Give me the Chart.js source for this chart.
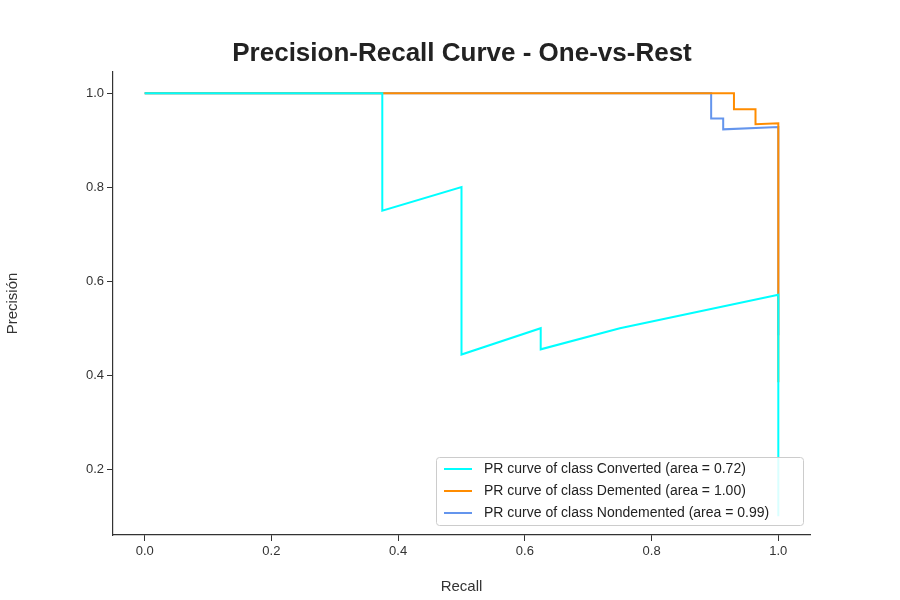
<!DOCTYPE html>
<html lang="en">
<head>
<meta charset="UTF-8">
<title>Precision-Recall Curve</title>
<style>
  body { margin: 0; background: #fff; }
</style>
</head>
<body>
<canvas id="prChart" width="900" height="600"></canvas>
<script src="https://cdn.jsdelivr.net/npm/chart.js"></script>
<script>
// recall / precision points
const convRecall = [0, 0.375, 0.375, 0.5, 0.5, 0.625, 0.625, 0.75, 1.0, 1.0];
const convPrec   = [1, 1, 0.75, 0.8, 0.444, 0.5, 0.455, 0.5, 0.571, 0.1];
const demRecall  = [0, 0.93, 0.93, 0.964, 0.964, 1.0, 1.0];
const demPrec    = [1, 1, 0.966, 0.966, 0.934, 0.936, 0.385];
const nonRecall  = [0, 0.894, 0.894, 0.913, 0.913, 1.0, 1.0];
const nonPrec    = [1, 1, 0.946, 0.946, 0.923, 0.928, 0.485];
const seriesLabels = [
  'PR curve of class Converted (area = 0.72)',
  'PR curve of class Demented (area = 1.00)',
  'PR curve of class Nondemented (area = 0.99)'
];
const seriesColors = ['#00ffff', '#ff8c00', '#6495ed'];
const xTicks = [0, 0.2, 0.4, 0.6, 0.8, 1.0];
const yTicks = [0.2, 0.4, 0.6, 0.8, 1.0];

const toPts = (xs, ys) => xs.map((x, i) => ({ x: x, y: ys[i] }));
const allSeries = [toPts(convRecall, convPrec), toPts(demRecall, demPrec), toPts(nonRecall, nonPrec)];

const font = "'Liberation Sans', Arial, sans-serif";

// title and in-plot legend
const extras = {
  id: 'extras',
  afterDraw(chart) {
    const c = chart.ctx;
    c.save();
    c.fillStyle = '#222';
    c.font = 'bold 26px ' + font;
    c.textAlign = 'center';
    c.textBaseline = 'middle';
    c.fillText('Precision-Recall Curve - One-vs-Rest', 462, 54);

    const bx = 436, by = 457, bw = 367, bh = 68;
    c.fillStyle = 'rgba(255,255,255,0.85)';
    c.strokeStyle = '#ccc';
    c.lineWidth = 1;
    c.beginPath();
    c.roundRect(bx + 0.5, by + 0.5, bw, bh, 3);
    c.fill(); c.stroke();
    c.font = '14px ' + font;
    c.textAlign = 'left';
    seriesLabels.forEach((lab, i) => {
      const y = by + 12 + i * 22;
      c.strokeStyle = seriesColors[i];
      c.lineWidth = 2;
      c.beginPath(); c.moveTo(bx + 8, y); c.lineTo(bx + 36, y); c.stroke();
      c.fillStyle = '#222';
      c.fillText(lab, bx + 48, y);
    });
    c.restore();
  }
};

new Chart(document.getElementById('prChart'), {
  type: 'scatter',
  data: {
    datasets: allSeries.map((d, i) => ({
      label: seriesLabels[i],
      data: d,
      showLine: true,
      borderColor: seriesColors[i],
      backgroundColor: seriesColors[i],
      borderWidth: 2,
      pointRadius: 0,
      tension: 0
    }))
  },
  options: {
    responsive: false,
    animation: false,
    devicePixelRatio: 1,
    layout: { padding: { top: 72, right: 90, left: 0, bottom: 0 } },
    plugins: { legend: { display: false }, tooltip: { enabled: false } },
    scales: {
      x: {
        type: 'linear', min: -0.05, max: 1.05,
        afterBuildTicks: s => { s.ticks = xTicks.map(v => ({ value: v })); },
        afterFit: s => { s.height = 65; },
        grid: { drawOnChartArea: false, tickLength: 6, color: '#333' },
        border: { color: '#333', width: 1.2 },
        ticks: { color: '#333', font: { size: 13, family: font }, callback: v => v.toFixed(1) },
        title: { display: true, text: 'Recall', color: '#333', font: { size: 15, family: font }, padding: { top: 6 } }
      },
      y: {
        type: 'linear', min: 0.06, max: 1.045,
        afterBuildTicks: s => { s.ticks = yTicks.map(v => ({ value: v })); },
        afterFit: s => { s.width = 113; },
        grid: { drawOnChartArea: false, tickLength: 6, color: '#333' },
        border: { color: '#333', width: 1.2 },
        ticks: { color: '#333', font: { size: 13, family: font }, callback: v => v.toFixed(1) },
        title: { display: true, text: 'Precisión', color: '#333', font: { size: 15, family: font }, padding: { bottom: 10 } }
      }
    }
  },
  plugins: [extras]
});
</script>
</body>
</html>
